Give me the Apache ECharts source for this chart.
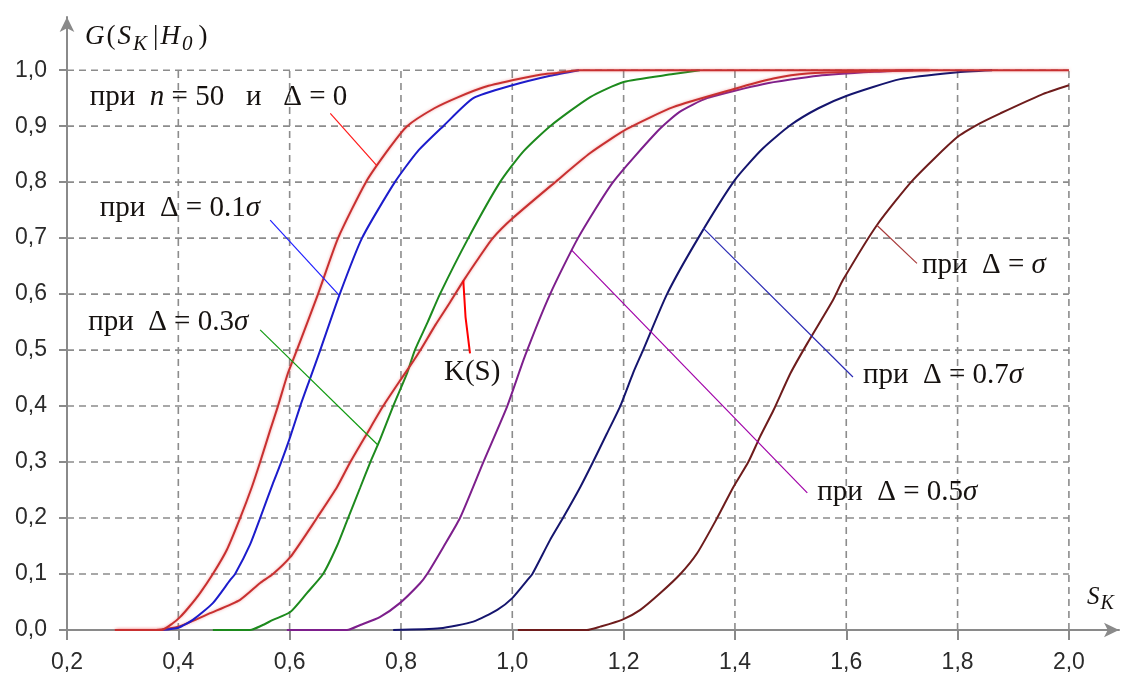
<!DOCTYPE html>
<html>
<head>
<meta charset="utf-8">
<script src="https://cdn.jsdelivr.net/npm/echarts@6/dist/echarts.min.js"></script>
<style>
  html, body { margin: 0; padding: 0; background: #ffffff; }
  #chart { width: 1127px; height: 681px; }
</style>
</head>
<body>
<div id="chart"></div>
<script>
// Axis ticks
const xTicks = [0.2, 0.4, 0.6, 0.8, 1.0, 1.2, 1.4, 1.6, 1.8, 2.0];
const yTicks = [0.0, 0.1, 0.2, 0.3, 0.4, 0.5, 0.6, 0.7, 0.8, 0.9, 1.0];

// Empirical distribution functions G(S_K | H0), points [S_K, G]
const curveDelta0 = [
  [0.286, 0], [0.37, 0], [0.39, 0.012], [0.403, 0.023], [0.42, 0.042], [0.439, 0.066],
  [0.462, 0.10], [0.487, 0.143], [0.511, 0.20], [0.532, 0.255], [0.547, 0.30], [0.565, 0.357],
  [0.579, 0.40], [0.597, 0.459], [0.613, 0.50], [0.651, 0.60], [0.687, 0.70], [0.737, 0.80],
  [0.78, 0.862], [0.811, 0.90], [0.86, 0.932], [0.903, 0.952], [0.95, 0.97], [1.0, 0.982],
  [1.05, 0.992], [1.08, 0.995], [1.12, 1.0], [2.0, 1.0]
];
const curveDelta01 = [
  [0.37, 0], [0.40, 0.004], [0.426, 0.018], [0.462, 0.048], [0.493, 0.089], [0.502, 0.10],
  [0.529, 0.153], [0.547, 0.20], [0.570, 0.262], [0.583, 0.295], [0.601, 0.345], [0.619, 0.40],
  [0.637, 0.45], [0.655, 0.50], [0.69, 0.60], [0.73, 0.70], [0.789, 0.80], [0.83, 0.855],
  [0.876, 0.90], [0.93, 0.95], [1.0, 0.973], [1.068, 0.99], [1.12, 1.0]
];
const curveKS = [
  [0.29, 0], [0.36, 0], [0.403, 0.007], [0.457, 0.03], [0.511, 0.054], [0.547, 0.084],
  [0.570, 0.10], [0.601, 0.13], [0.631, 0.173], [0.649, 0.20], [0.685, 0.255], [0.709, 0.30],
  [0.739, 0.351], [0.768, 0.40], [0.798, 0.445], [0.822, 0.48], [0.835, 0.50], [0.862, 0.545],
  [0.888, 0.585], [0.913, 0.625], [0.94, 0.665], [0.965, 0.70], [1.0, 0.735], [1.077, 0.80],
  [1.14, 0.852], [1.206, 0.895], [1.289, 0.934], [1.397, 0.966], [1.469, 0.985], [1.53, 0.994],
  [1.65, 0.998], [1.75, 1.0]
];
const curveDelta03 = [
  [0.462, 0], [0.529, 0], [0.55, 0.008], [0.570, 0.018], [0.601, 0.032], [0.631, 0.066],
  [0.660, 0.10], [0.685, 0.15], [0.703, 0.195], [0.727, 0.255], [0.745, 0.30], [0.762, 0.339],
  [0.786, 0.40], [0.811, 0.459], [0.825, 0.50], [0.848, 0.55], [0.870, 0.60], [0.921, 0.70],
  [0.978, 0.80], [1.02, 0.855], [1.068, 0.90], [1.14, 0.952], [1.2, 0.979], [1.289, 0.993],
  [1.337, 1.0]
];
const curveDelta05 = [
  [0.595, 0], [0.703, 0], [0.727, 0.009], [0.762, 0.023], [0.798, 0.048], [0.834, 0.083],
  [0.847, 0.10], [0.876, 0.148], [0.906, 0.20], [0.948, 0.30], [0.991, 0.40], [1.023, 0.49],
  [1.068, 0.60], [1.118, 0.70], [1.181, 0.80], [1.26, 0.89], [1.30, 0.925], [1.35, 0.95],
  [1.45, 0.975], [1.55, 0.99], [1.65, 0.997], [1.72, 1.0]
];
const curveDelta07 = [
  [0.786, 0], [0.87, 0.003], [0.93, 0.015], [0.973, 0.036], [1.0, 0.057], [1.027, 0.089],
  [1.036, 0.10], [1.068, 0.161], [1.091, 0.20], [1.122, 0.255], [1.145, 0.30], [1.170, 0.351],
  [1.194, 0.40], [1.217, 0.459], [1.235, 0.50], [1.278, 0.60], [1.334, 0.70], [1.4, 0.804],
  [1.45, 0.86], [1.5, 0.902], [1.55, 0.932], [1.6, 0.954], [1.697, 0.984], [1.796, 0.996],
  [1.862, 1.0]
];
const curveDelta10 = [
  [1.01, 0], [1.134, 0], [1.158, 0.006], [1.197, 0.018], [1.23, 0.036], [1.266, 0.066],
  [1.302, 0.10], [1.332, 0.137], [1.368, 0.20], [1.397, 0.255], [1.424, 0.30], [1.445, 0.345],
  [1.469, 0.392], [1.5, 0.459], [1.53, 0.512], [1.576, 0.589], [1.594, 0.625], [1.655, 0.723],
  [1.72, 0.804], [1.799, 0.88], [1.84, 0.905], [1.877, 0.923], [1.95, 0.956], [2.0, 0.973]
];

// Leader lines [from curve, to caption] and caption anchors
const leaderDelta0  = [[0.757, 0.829], [0.673, 0.923]];
const leaderDelta01 = [[0.69, 0.597], [0.565, 0.732]];
const leaderDelta03 = [[0.759, 0.330], [0.547, 0.536]];
const leaderKS      = [[0.912, 0.624], [0.916, 0.559], [0.924, 0.494]];
const leaderDelta05 = [[1.107, 0.678], [1.53, 0.245]];
const leaderDelta07 = [[1.343, 0.718], [1.612, 0.452]];
const leaderDelta10 = [[1.655, 0.723], [1.727, 0.655]];

const captionDelta0  = [0.241, 0.952];
const captionDelta01 = [0.259, 0.754];
const captionDelta03 = [0.238, 0.550];
const captionKS      = [0.928, 0.461];
const captionDelta05 = [1.548, 0.245];
const captionDelta07 = [1.630, 0.455];
const captionDelta10 = [1.736, 0.652];

const SERIF = "'Liberation Serif', 'Times New Roman', serif";
const TEXT = '#161210';
const AXIS = '#8a8a8a';
const CAPTION_SIZE = 29;
const captionRich = {
  it: { fontFamily: SERIF, fontStyle: 'italic', fontWeight: 'normal', fontSize: CAPTION_SIZE, color: TEXT }
};

const fmt = v => v.toFixed(1).replace('.', ',');

function curve(data, color, glow) {
  return {
    type: 'line', data: data, symbol: 'none', silent: true, z: 3,
    smooth: 0.2,
    lineStyle: {
      color: color, width: 2,
      shadowBlur: glow ? 3 : 0, shadowColor: glow ? 'rgba(235,90,90,0.55)' : 'transparent'
    }
  };
}

function leader(data, color, width, anchor, text, position) {
  return {
    type: 'line', data: data, symbol: 'none', silent: true, z: 4,
    lineStyle: { color: color, width: width },
    markPoint: {
      silent: true, symbol: 'circle', symbolSize: 0, animation: false,
      data: [{ coord: anchor, value: 0 }],
      label: {
        show: true, position: position, distance: 0,
        formatter: () => text,
        fontFamily: SERIF, fontWeight: 'normal', fontSize: CAPTION_SIZE, color: TEXT,
        rich: captionRich
      }
    }
  };
}

// Dashed grid: verticals up to 1.0, horizontals up to S_K = 2.0
const gridSegments = [];
xTicks.slice(1).forEach(x => gridSegments.push([x, 0, x, 1.0]));
yTicks.slice(1).forEach(y => gridSegments.push([0.2, y, 2.0, y]));

const chart = echarts.init(document.getElementById('chart'), null, { renderer: 'canvas' });

chart.setOption({
  animation: false,
  backgroundColor: '#ffffff',
  title: [
    {
      text: '{i|G}{r|(}{i|S}{s|K}{r||}{i|H}{s|0}{r|)}',
      left: 85, top: 18, padding: 0,
      textStyle: {
        fontWeight: 'normal',
        rich: {
          i: { fontFamily: SERIF, fontStyle: 'italic', fontWeight: 'normal', fontSize: 27, color: TEXT, padding: [0, 2, 0, 0] },
          r: { fontFamily: SERIF, fontWeight: 'normal', fontSize: 27, color: TEXT, padding: [0, 2, 0, 0] },
          s: { fontFamily: SERIF, fontStyle: 'italic', fontWeight: 'normal', fontSize: 21, color: TEXT, padding: [16, 6, 0, 0] }
        }
      }
    },
    {
      text: '{i|S}{s|K}',
      left: 1087, top: 580, padding: 0,
      textStyle: {
        fontWeight: 'normal',
        rich: {
          i: { fontFamily: SERIF, fontStyle: 'italic', fontWeight: 'normal', fontSize: 25, color: TEXT },
          s: { fontFamily: SERIF, fontStyle: 'italic', fontWeight: 'normal', fontSize: 20, color: TEXT, padding: [14, 0, 0, 1] }
        }
      }
    }
  ],
  grid: { left: 67, right: 8, top: 17, bottom: 51, containLabel: false },
  xAxis: {
    type: 'value', min: 0.2, max: 2.09, interval: 0.2,
    axisLine: {
      show: true, symbol: ['none', 'arrow'], symbolSize: [11, 15],
      lineStyle: { color: AXIS, width: 2 }
    },
    axisTick: { show: true, customValues: xTicks, length: 10, lineStyle: { color: AXIS, width: 2 } },
    axisLabel: {
      customValues: xTicks, formatter: fmt, margin: 21,
      fontFamily: "'Liberation Sans', Arial, sans-serif", fontSize: 23, color: '#2b2b2b'
    },
    splitLine: { show: false }
  },
  yAxis: {
    type: 'value', min: 0, max: 1.095, interval: 0.1,
    axisLine: {
      show: true, symbol: ['none', 'arrow'], symbolSize: [11, 15],
      lineStyle: { color: AXIS, width: 2 }
    },
    axisTick: { show: true, customValues: yTicks, length: 8, lineStyle: { color: AXIS, width: 2 } },
    axisLabel: {
      customValues: yTicks, formatter: fmt, margin: 20,
      fontFamily: "'Liberation Sans', Arial, sans-serif", fontSize: 23, color: '#2b2b2b'
    },
    splitLine: { show: false }
  },
  series: [
    {
      type: 'custom', silent: true, z: 1,
      data: gridSegments,
      encode: { x: [0, 2], y: [1, 3] },
      renderItem: (params, api) => {
        const p1 = api.coord([api.value(0), api.value(1)]);
        const p2 = api.coord([api.value(2), api.value(3)]);
        return {
          type: 'line',
          shape: { x1: p1[0], y1: p1[1], x2: p2[0], y2: p2[1] },
          style: { stroke: '#8c8c8c', lineWidth: 1.6, lineDash: [7, 5] }
        };
      }
    },
    curve(curveDelta10, '#6e1c1c', false),
    curve(curveDelta07, '#15156e', false),
    curve(curveDelta05, '#7d1f8c', false),
    curve(curveDelta03, '#1d8a1d', false),
    curve(curveKS, '#c83030', true),
    curve(curveDelta01, '#1c1ccc', false),
    curve(curveDelta0, '#c83030', true),

    leader(leaderDelta0, '#ff1a1a', 1.2, captionDelta0,
      'при  {it|n} = 50   и   Δ = 0', 'right'),
    leader(leaderDelta01, '#2020ff', 1.2, captionDelta01,
      'при  Δ = 0.1{it|σ}', 'right'),
    leader(leaderDelta03, '#109a10', 1.2, captionDelta03,
      'при  Δ = 0.3{it|σ}', 'right'),
    leader(leaderKS, '#ff0000', 2, captionKS, 'K(S)', 'inside'),
    leader(leaderDelta05, '#a000a8', 1.2, captionDelta05,
      'при  Δ = 0.5{it|σ}', 'right'),
    leader(leaderDelta07, '#2a2ab4', 1.2, captionDelta07,
      'при  Δ = 0.7{it|σ}', 'right'),
    leader(leaderDelta10, '#a83a3a', 1.2, captionDelta10,
      'при  Δ = {it|σ}', 'right')
  ]
});
</script>
</body>
</html>
